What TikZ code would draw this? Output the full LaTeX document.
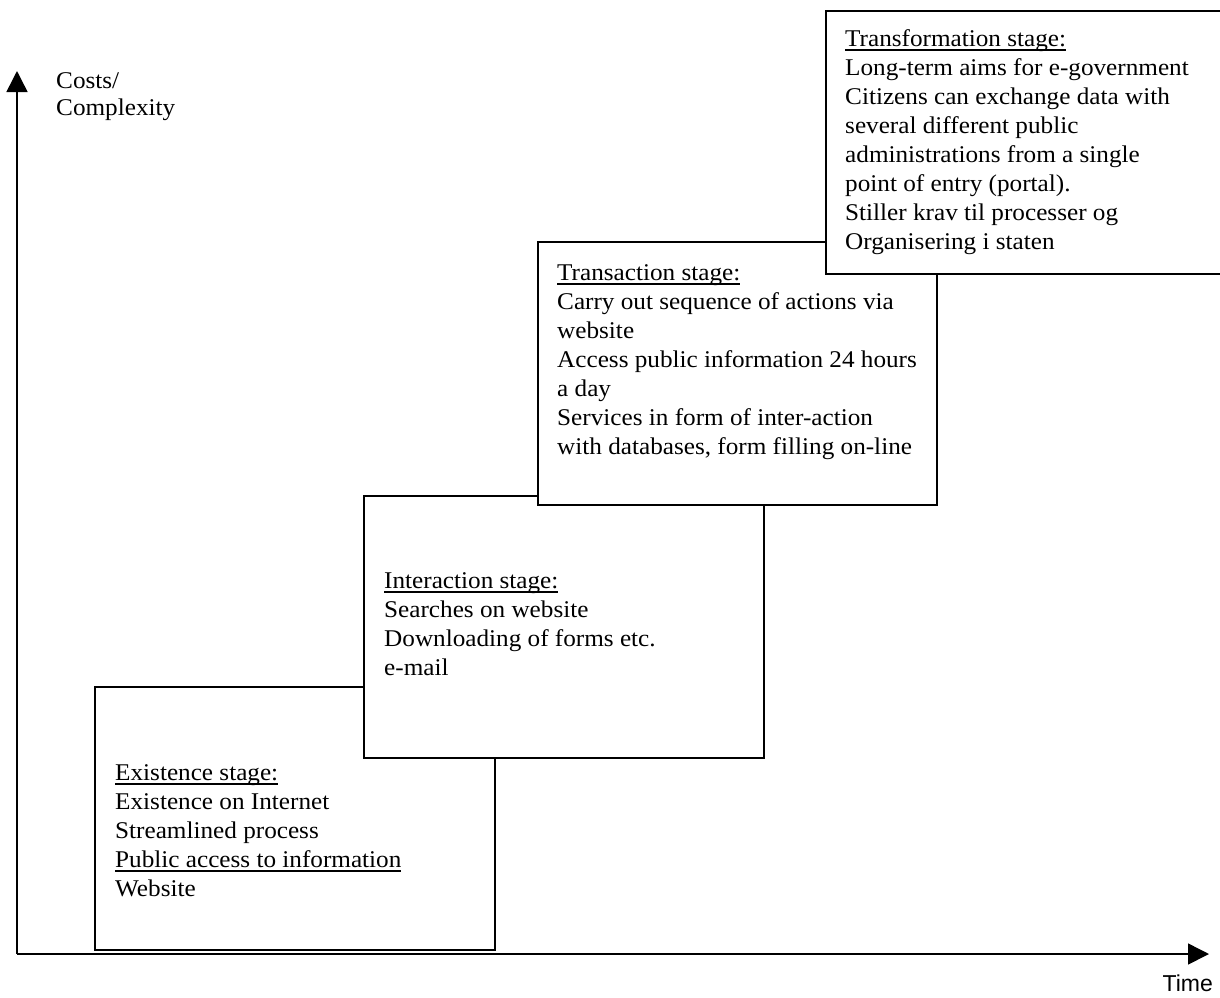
\documentclass[tikz,border=0pt]{standalone}
\usepackage{fontspec}
\setmainfont{Liberation Serif}[FakeStretch=1.05]
\newfontfamily\timefont{Liberation Sans}
\usetikzlibrary{arrows.meta,positioning}

% heavier underline for the stage headings
\newcommand\stagehead[1]{\setbox0\hbox{#1}\rlap{\rule[-4.5pt]{\wd0}{1.8pt}}\box0}

\tikzset{
  stagebox/.style={draw, line width=1.5pt, fill=white, anchor=north west,
    minimum width=400pt, minimum height=263pt, inner sep=0pt},
  stagetext/.style={anchor=north west, align=left, inner sep=0pt,
    font=\fontsize{24}{29}\selectfont},
  axis/.style={line width=1.5pt, -{Triangle[length=21pt,width=21pt]}},
}

\begin{document}
\begin{tikzpicture}[x=1pt,y=-1pt]
\useasboundingbox (0,0) rectangle (1220,997);
% Axes
\coordinate (origin) at (17,954);
\coordinate (ytop) at (17,71);
\coordinate (xend) at (1209,954);
\draw[axis] (origin) -- (ytop);
\draw[axis] (origin) -- (xend);
\node[stagetext, font=\fontsize{24}{27}\selectfont] (costs) at (56,72) {Costs/\\Complexity};
\node[anchor=north east, inner sep=0pt, font=\timefont\fontsize{23}{27}\selectfont] (time) at (1213,975) {Time};

% Stages, each box on top of the one before
\node[stagebox] (exist) at (94,686) {};
\node[stagetext] (existtext) at (115,764) {\stagehead{Existence stage:}\\
  Existence on Internet\\
  Streamlined process\\
  \stagehead{Public access to information}\\
  Website};

\node[stagebox, minimum height=262pt] (inter) at (363,495) {};
\node[stagetext] (intertext) at (384,572) {\stagehead{Interaction stage:}\\
  Searches on website\\
  Downloading of forms etc.\\
  e-mail};

\node[stagebox, minimum width=399pt] (trans) at (537,241) {};
\node[stagetext] (transtext) at (557,264) {\stagehead{Transaction stage:}\\
  Carry out sequence of actions via\\
  website\\
  Access public information 24 hours\\
  a day\\
  Services in form of inter-action\\
  with databases, form filling on-line};

\node[stagebox] (transf) at (825,10) {};
\node[stagetext] (transftext) at (845,29) {\stagehead{Transformation stage:}\\
  Long-term aims for e-government\\
  Citizens can exchange data with\\
  several different public\\
  administrations from a single\\
  point of entry (portal).\\
  Stiller krav til processer og\\
  Organisering i staten};
\end{tikzpicture}
\end{document}
